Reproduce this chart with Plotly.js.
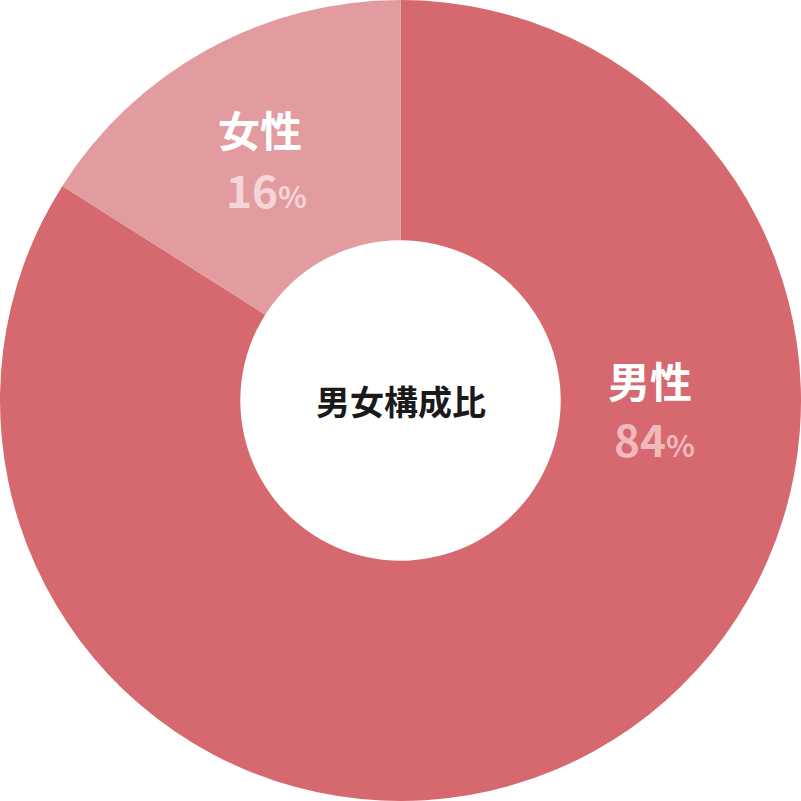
<!DOCTYPE html>
<html>
<head>
<meta charset="utf-8">
<script src="https://cdn.plot.ly/plotly-3.0.1.min.js"></script>
<style>
  html, body { margin: 0; padding: 0; background: #fff; }
  #chart { width: 801px; height: 801px; }
</style>
</head>
<body>
<div id="chart"></div>
<script>
// data
var labels = ['男性', '女性'];
var values = [84, 16];
var sliceColors = ['#d6686f', '#e29b9f'];
var pctColors = ['#f0b9bc', '#f5d6d8'];
var centerTitle = '男女構成比';

// label placement (paper coords)
var labelX = [0.8115, 0.3246];
var labelY = [0.526, 0.840];
var pctX = [0.8165, 0.3333];
var pctY = [0.453, 0.764];

var font = '"Noto Sans CJK JP", "Noto Sans", sans-serif';

var annotations = [{
  text: '<b>' + centerTitle + '</b>',
  x: 0.5, y: 0.5, xref: 'paper', yref: 'paper',
  xanchor: 'center', yanchor: 'middle',
  showarrow: false,
  font: { family: font, size: 34, color: '#1a1a1a' }
}];

labels.forEach(function(l, i) {
  annotations.push({
    text: '<b>' + l + '</b>',
    x: labelX[i], y: labelY[i], xref: 'paper', yref: 'paper',
    xanchor: 'center', yanchor: 'middle',
    showarrow: false,
    font: { family: font, size: 42, color: '#ffffff' }
  });
  annotations.push({
    text: '<b>' + values[i] + '<span style="font-size:30px">%</span></b>',
    x: pctX[i], y: pctY[i], xref: 'paper', yref: 'paper',
    xanchor: 'center', yanchor: 'middle',
    showarrow: false,
    font: { family: font, size: 44, color: pctColors[i] }
  });
});

var trace = {
  type: 'pie',
  labels: labels,
  values: values,
  hole: 0.4,
  sort: false,
  direction: 'clockwise',
  rotation: 0,
  textinfo: 'none',
  hoverinfo: 'skip',
  marker: { colors: sliceColors, line: { width: 0 } },
  domain: { x: [0, 1], y: [0, 1] }
};

var layout = {
  width: 801,
  height: 801,
  margin: { l: 0, r: 0, t: 0, b: 0, pad: 0 },
  showlegend: false,
  paper_bgcolor: '#ffffff',
  annotations: annotations
};

Plotly.newPlot('chart', [trace], layout, { staticPlot: true });
</script>
</body>
</html>
